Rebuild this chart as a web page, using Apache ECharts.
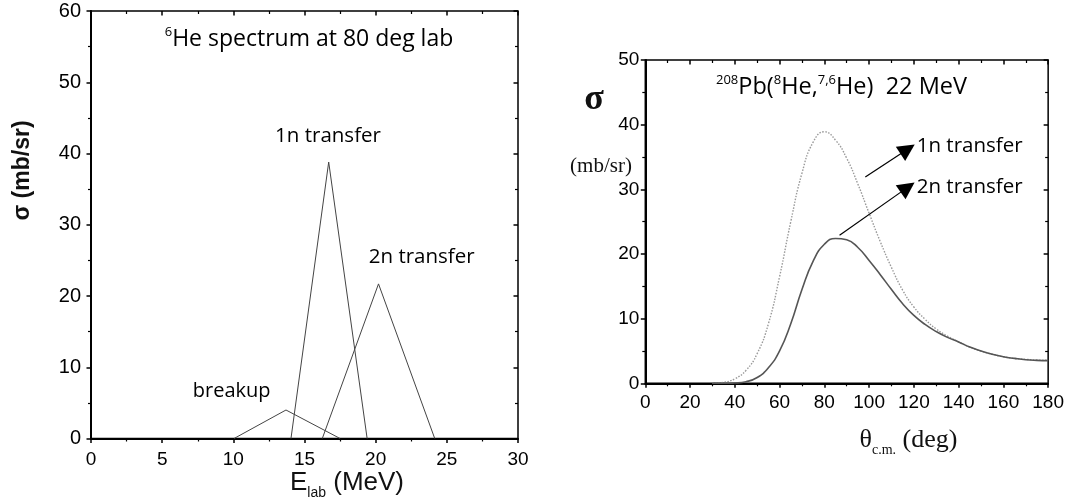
<!DOCTYPE html>
<html><head><meta charset="utf-8">
<script src="https://cdn.jsdelivr.net/npm/echarts@6/dist/echarts.min.js"></script>
<style>html,body{margin:0;padding:0;background:#fff}#c{width:1067px;height:497px}</style>
</head><body><div id="c"></div>
<script>
// ---- Left panel: 6He spectrum at 80 deg lab ----
const breakupE = [10.05, 13.7, 17.5];
const breakupSigma = [0, 4.0, 0];
const oneNE = [14.05, 16.7, 19.4];
const oneNSigmaLab = [0, 38.8, 0];
const twoNE = [16.25, 20.2, 24.15];
const twoNSigmaLab = [0, 21.7, 0];
const leftXTicks = [0, 5, 10, 15, 20, 25, 30];
const leftYTicks = [0, 10, 20, 30, 40, 50, 60];

// ---- Right panel: 208Pb(8He,7,6He) 22 MeV ----
const angles = [30,35,40,45,50,55,60,65,70,75,80,85,90,95,100,105,110,115,120,125,130,135,140,145,150,155,160,165,170,175,180];
const oneNSigma = [0,0.15,0.7,2.0,4.6,9.2,16.5,25,32.5,37.3,38.9,37.6,34.8,30.8,26.3,21.9,17.9,14.4,11.8,9.9,8.4,7.3,6.4,5.6,5.0,4.5,4.1,3.85,3.7,3.6,3.55];
const twoNSigma = [0,0,0.05,0.25,0.9,2.4,5.0,9.2,14.5,18.9,21.5,22.4,22.2,21.0,19.0,16.8,14.5,12.3,10.5,9.1,8.0,7.1,6.4,5.6,5.0,4.5,4.1,3.85,3.65,3.55,3.5];
const rightXTicks = [0,20,40,60,80,100,120,140,160,180];
const rightYTicks = [0,10,20,30,40,50];
const arrow1n = [[98.3, 31.9], [117.2, 36.2]];
const arrow2n = [[86.8, 22.9], [117.2, 30.3]];

const zip = (a, b) => a.map((v, i) => [v, b[i]]);
const tickFont = 'Liberation Sans, Arial, sans-serif';
const annFont = 'Open Sans, Noto Sans, sans-serif';
const serif = 'Liberation Serif, Times New Roman, serif';

function mkAxis(grid, ticks, fontSize, margin, inside, showLabel) {
  return {
    type: 'value', gridIndex: grid,
    min: ticks[0], max: ticks[ticks.length - 1], interval: ticks[1] - ticks[0],
    axisLine: { show: !inside, onZero: false, lineStyle: { color: '#000', width: 2 } },
    axisTick: { show: true, inside: inside, length: 4.5, lineStyle: { color: '#000', width: 1.5 } },
    minorTick: { show: true, splitNumber: 2, length: 3, lineStyle: { color: '#000', width: 1.2 } },
    splitLine: { show: false },
    axisLabel: { show: showLabel, margin: margin, color: '#000', fontSize: fontSize, fontFamily: tickFont },
  };
}

const chart = echarts.init(document.getElementById('c'), null, { renderer: 'canvas' });
const option = {
  animation: false,
  backgroundColor: '#fff',
  grid: [
    { left: 91, top: 11, width: 427, height: 427.5, show: true, borderColor: '#000', borderWidth: 1.5, backgroundColor: 'transparent' },
    { left: 645.3, top: 60, width: 404, height: 323.3, show: true, borderColor: '#000', borderWidth: 1.5, backgroundColor: 'transparent' }
  ],
  xAxis: [
    mkAxis(0, leftXTicks, 19, 12, false, true),
    mkAxis(0, leftXTicks, 19, 12, true, false),
    mkAxis(1, rightXTicks, 19, 10, false, true),
    mkAxis(1, rightXTicks, 19, 10, true, false)
  ],
  yAxis: [
    mkAxis(0, leftYTicks, 20, 10, false, true),
    mkAxis(0, leftYTicks, 20, 10, true, false),
    mkAxis(1, rightYTicks, 19, 6, false, true),
    mkAxis(1, rightYTicks, 19, 6, true, false)
  ],
  series: [
    { type: 'line', xAxisIndex: 0, yAxisIndex: 0, data: zip(breakupE, breakupSigma), symbol: 'none', lineStyle: { color: '#444', width: 1 } },
    { type: 'line', xAxisIndex: 0, yAxisIndex: 0, data: zip(oneNE, oneNSigmaLab), symbol: 'none', lineStyle: { color: '#444', width: 1 } },
    { type: 'line', xAxisIndex: 0, yAxisIndex: 0, data: zip(twoNE, twoNSigmaLab), symbol: 'none', lineStyle: { color: '#444', width: 1 } },
    { type: 'line', xAxisIndex: 2, yAxisIndex: 2, data: zip(angles, oneNSigma), symbol: 'none', smooth: 0.5,
      lineStyle: { color: '#9a9a9a', width: 1.4, type: [1.5, 1.5] } },
    { type: 'line', xAxisIndex: 2, yAxisIndex: 2, data: zip(angles, twoNSigma), symbol: 'none', smooth: 0.5,
      lineStyle: { color: '#555', width: 1.6 },
      markLine: {
        silent: true, symbol: ['none', 'triangle'], symbolSize: 17,
        label: { show: false },
        lineStyle: { color: '#000', width: 1.2, type: 'solid' },
        data: [
          [{ coord: arrow1n[0] }, { coord: arrow1n[1] }],
          [{ coord: arrow2n[0] }, { coord: arrow2n[1] }]
        ]
      }
    }
  ],
  graphic: [
    { type: 'text', x: 309, y: 39, style: { text: '{sup|6}He spectrum at 80 deg lab', fontFamily: annFont, fontSize: 23, fill: '#000', align: 'center', verticalAlign: 'middle',
      rich: { sup: { fontSize: 13, verticalAlign: 'top', fontFamily: annFont, lineHeight: 26 } } } },
    { type: 'text', x: 328, y: 136, style: { text: '1n transfer', fontFamily: annFont, fontSize: 20.5, fill: '#000', align: 'center', verticalAlign: 'middle' } },
    { type: 'text', x: 421.7, y: 257, style: { text: '2n transfer', fontFamily: annFont, fontSize: 20.5, fill: '#000', align: 'center', verticalAlign: 'middle' } },
    { type: 'text', x: 231.7, y: 391.7, style: { text: 'breakup', fontFamily: annFont, fontSize: 20, fill: '#000', align: 'center', verticalAlign: 'middle' } },
    { type: 'text', x: 22.5, y: 170.5, rotation: Math.PI / 2, style: { text: 'σ (mb/sr)', fontFamily: tickFont, fontWeight: 'bold', fontSize: 23, fill: '#111', align: 'center', verticalAlign: 'middle' } },
    { type: 'text', x: 347, y: 483, style: { text: 'E{sub|lab} (MeV)', fontFamily: tickFont, fontSize: 26, fill: '#111', align: 'center', verticalAlign: 'middle',
      rich: { sub: { fontSize: 14, verticalAlign: 'bottom', fontFamily: tickFont, lineHeight: 34 } } } },
    { type: 'text', x: 841.5, y: 87, style: { text: '{sup|208}Pb({sup|8}He,{sup|7,6}He)  22 MeV', fontFamily: annFont, fontSize: 23.5, fill: '#000', align: 'center', verticalAlign: 'middle',
      rich: { sup: { fontSize: 13, verticalAlign: 'top', fontFamily: annFont, lineHeight: 26 } } } },
    { type: 'text', x: 916.7, y: 146, style: { text: '1n transfer', fontFamily: annFont, fontSize: 20.5, fill: '#000', align: 'left', verticalAlign: 'middle' } },
    { type: 'text', x: 916.7, y: 187.3, style: { text: '2n transfer', fontFamily: annFont, fontSize: 20.5, fill: '#000', align: 'left', verticalAlign: 'middle' } },
    { type: 'text', x: 594, y: 100, style: { text: 'σ', fontFamily: serif, fontWeight: 'bold', fontSize: 36, fill: '#111', align: 'center', verticalAlign: 'middle' } },
    { type: 'text', x: 601, y: 166.7, style: { text: '(mb/sr)', fontFamily: serif, fontSize: 21, fill: '#111', align: 'center', verticalAlign: 'middle' } },
    { type: 'text', x: 908.5, y: 440, style: { text: 'θ{sub|c.m.} (deg)', fontFamily: serif, fontSize: 26, fill: '#111', align: 'center', verticalAlign: 'middle',
      rich: { sub: { fontSize: 14, verticalAlign: 'bottom', fontFamily: serif, lineHeight: 34 } } } }
  ]
};
chart.setOption(option);
</script>
</body></html>
